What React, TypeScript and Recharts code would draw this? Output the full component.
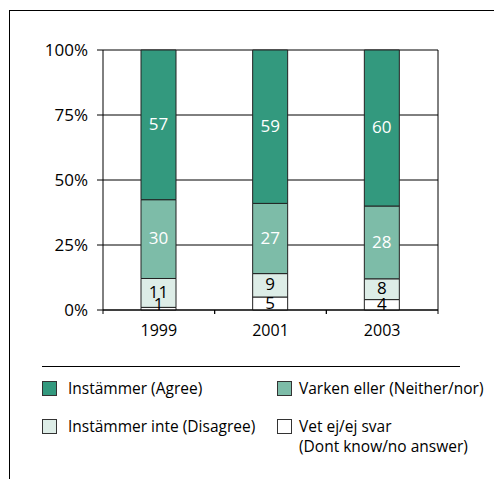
import { BarChart, Bar, XAxis, YAxis, CartesianGrid, LabelList } from "recharts"

// survey answers per year, in percent
const years = ["1999", "2001", "2003"]
const agree = [57, 59, 60]
const neither = [30, 27, 28]
const disagree = [11, 9, 8]
const dontKnow = [1, 5, 4]
const yTicks = [0, 0.25, 0.5, 0.75, 1]

const data = years.map((year, i) => ({
  year,
  dontKnow: dontKnow[i],
  disagree: disagree[i],
  neither: neither[i],
  agree: agree[i],
}))

// stacked bottom to top
const series = [
  { key: "dontKnow", fill: "#ffffff", text: "#000000" },
  { key: "disagree", fill: "#ddede7", text: "#000000" },
  { key: "neither", fill: "#7dbca8", text: "#ffffff" },
  { key: "agree", fill: "#33997e", text: "#ffffff" },
]

const legendItems = [
  { label: "Instämmer (Agree)", fill: "#33997e" },
  { label: "Varken eller (Neither/nor)", fill: "#7dbca8" },
  { label: "Instämmer inte (Disagree)", fill: "#ddede7" },
  { label: "Vet ej/ej svar", sub: "(Dont know/no answer)", fill: "#ffffff" },
]

const FONT = "'Open Sans', 'Noto Sans', sans-serif"

const segmentLabel = (color: string) => (props: any) => {
  const { x, y, width, height, value } = props
  const fs = 17
  // keep small segments' numbers sitting on the axis
  const baseline = Math.min(y + height / 2 + fs * 0.3, y + height)
  return (
    <text x={x + width / 2} y={baseline} textAnchor="middle" fontSize={fs} fill={color} fontFamily={FONT}>
      {value}
    </text>
  )
}

const YearTick = (props: any) => {
  const { x, y, payload, width, visibleTicksCount } = props
  const half = payload.offset || width / visibleTicksCount / 2
  return (
    <g>
      <line x1={x - half} x2={x - half} y1={y} y2={y + 4} stroke="#000" />
      <line x1={x + half} x2={x + half} y1={y} y2={y + 4} stroke="#000" />
      <text x={x} y={y + 26} textAnchor="middle" fontSize={16} fill="#000" fontFamily={FONT}>
        {payload.value}
      </text>
    </g>
  )
}

const Legend = () => (
  <div style={{ position: "absolute", left: 42, top: 366, width: 420, fontFamily: FONT, fontSize: 15.5, color: "#000" }}>
    <div style={{ borderTop: "1px solid #000", width: 418, height: 0 }} />
    <div style={{ display: "grid", gridTemplateColumns: "235px 190px", rowGap: 18, marginTop: 11 }}>
      {legendItems.map((item, i) => (
        <div key={item.label} style={{ display: "flex", alignItems: "flex-start", lineHeight: "20px" }}>
          <span
            style={{
              display: "inline-block",
              width: 13,
              height: 13,
              background: item.fill,
              border: "1px solid #333",
              marginTop: 3,
              marginRight: i % 2 === 0 ? 11 : 7,
              flexShrink: 0,
            }}
          />
          <span style={{ whiteSpace: "nowrap" }}>
            {item.label}
            {item.sub && (
              <>
                <br />
                {item.sub}
              </>
            )}
          </span>
        </div>
      ))}
    </div>
  </div>
)

export default function App() {
  return (
    <div style={{ position: "fixed", left: 0, top: 0, width: 494, height: 479, background: "#fff", overflow: "hidden" }}>
      <div
        style={{
          position: "absolute",
          left: 9,
          top: 10,
          width: 600,
          height: 600,
          borderLeft: "1px solid #000",
          borderTop: "1px solid #000",
        }}
      />
      <div style={{ position: "absolute", left: 0, top: 0 }}>
        <BarChart
          width={494}
          height={479}
          data={data}
          stackOffset="expand"
          margin={{ top: 50, right: 55, bottom: 139, left: 0 }}
          style={{ fontFamily: FONT }}
        >
          <CartesianGrid horizontal vertical={false} stroke="#000" />
          <XAxis
            dataKey="year"
            height={30}
            interval={0}
            tickLine={false}
            tickSize={0}
            tickMargin={0}
            axisLine={{ stroke: "#000" }}
            tick={<YearTick />}
          />
          <YAxis
            type="number"
            domain={[0, 1]}
            ticks={yTicks}
            interval={0}
            width={103}
            tickSize={6}
            tickMargin={9}
            tickFormatter={(v: number) => `${Math.round(v * 100)}%`}
            axisLine={{ stroke: "#000" }}
            tickLine={{ stroke: "#000" }}
            tick={{ fill: "#000", fontSize: 17 }}
          />
          <YAxis
            yAxisId="frame"
            orientation="right"
            type="number"
            domain={[0, 1]}
            width={1}
            tick={false}
            tickLine={false}
            axisLine={{ stroke: "#000" }}
          />
          {series.map((s) => (
            <Bar
              key={s.key}
              dataKey={s.key}
              stackId="a"
              fill={s.fill}
              stroke="#222"
              strokeWidth={1}
              barSize={35}
              isAnimationActive={false}
            >
              <LabelList dataKey={s.key} content={segmentLabel(s.text)} />
            </Bar>
          ))}
        </BarChart>
      </div>
      <Legend />
    </div>
  )
}
